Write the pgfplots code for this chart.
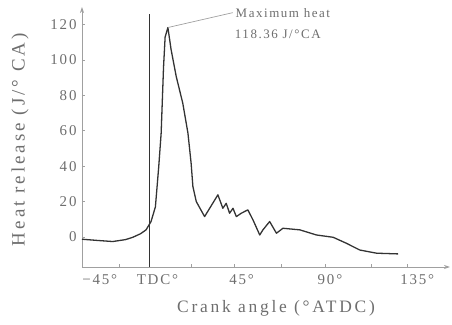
\documentclass[border=0pt]{standalone}
\usepackage{fontspec}
\setmainfont{Liberation Serif}
\newfontfamily\spaced[LetterSpace=12]{Liberation Serif}
\newfontfamily\wide[LetterSpace=16]{Liberation Serif}
\usepackage{pgfplots}
\pgfplotsset{compat=1.18}
\usetikzlibrary{arrows.meta}
\definecolor{txt}{HTML}{6E6E6E}
\definecolor{axc}{HTML}{A0A0A0}
\definecolor{crv}{HTML}{333333}
\begin{document}
\begin{tikzpicture}
\begin{axis}[
  scale only axis, width=368bp, height=260bp,
  xmin=-34, xmax=151.5, ymin=-17, ymax=130,
  axis lines=left, clip=false,
  axis line style={axc, line width=0.8pt},
  x axis line style={-{Stealth[length=6pt,width=4pt]}},
  y axis line style={-{Stealth[length=6pt,width=4pt]}},
  tick align=inside, major tick length=3pt, tick style={axc, line width=0.7pt},
  ytick={0,20,...,120},
  yticklabel style={font=\spaced\fontsize{15}{15}\selectfont, text=txt, xshift=-2bp},
  /pgf/number format/assume math mode=true,
  xtick={-15,0,21,43,66.5,88.5,112,130},
  xticklabels={},
  extra x ticks={-25,4,46.5,91,135},
  extra x tick labels={−45°,TDC°,45°,90°,135°},
  extra x tick style={major tick length=0pt, xticklabel style={font=\spaced\fontsize{15}{15}\selectfont, text=txt, yshift=-4bp}},
]
\addplot[crv, line width=1.3pt, line join=round] coordinates {
(-34,-1.3) (-26,-2) (-18.5,-2.6) (-12,-1.5) (-8.4,-0.2) (-4.5,1.8) (-1.7,4) (0.8,8.7) (3,17) (4.7,40) (5.9,58.7) (7.1,96) (7.9,113) (9.3,118.4) (10.9,106) (13.5,90.7) (16.8,75.6) (19.4,58.7) (21,41.7) (21.9,28.5) (23.6,20) (27.8,11.5) (34.5,23.8) (37,16.2) (38.7,19) (40.4,13.4) (42.1,16.2) (43.8,11.5) (46.3,13.4) (49.6,15.3) (52.2,9.6) (55.6,1.1) (57.2,4) (60.6,8.7) (64,2.1) (67.3,4.9) (75.8,4) (84.2,1.1) (92.6,-0.2) (99.3,-3.6) (106,-7.4) (114.5,-9.2) (125.4,-9.6)
};
\addplot[crv, line width=0.9pt] coordinates {(0,-17) (0,126)};
\addplot[axc, line width=0.7pt] coordinates {(9.3,118.4) (42,126.8)};
\node[anchor=west, text=txt, font=\spaced\fontsize{13}{13}\selectfont, inner sep=0pt] at (axis cs:43.4,126.8) {Maximum heat};
\node[anchor=west, text=txt, font=\spaced\fontsize{13}{13}\selectfont, inner sep=0pt] at (axis cs:43,114.5) {118.36 J/°CA};
\node[rotate=90, text=txt, font=\wide\fontsize{19}{19}\selectfont] at ([xshift=-62bp]rel axis cs:0,0.49) {Heat release (J/° CA)};
\node[text=txt, font=\wide\fontsize{17.5}{17.5}\selectfont] at ([xshift=10bp,yshift=-41bp]rel axis cs:0.5,0) {Crank angle (°ATDC)};
\end{axis}
\pgfresetboundingbox
\path ([shift={(-82bp,-58bp)}]current axis.south west) rectangle ([shift={(2bp,7bp)}]current axis.north east);
\end{tikzpicture}
\end{document}
